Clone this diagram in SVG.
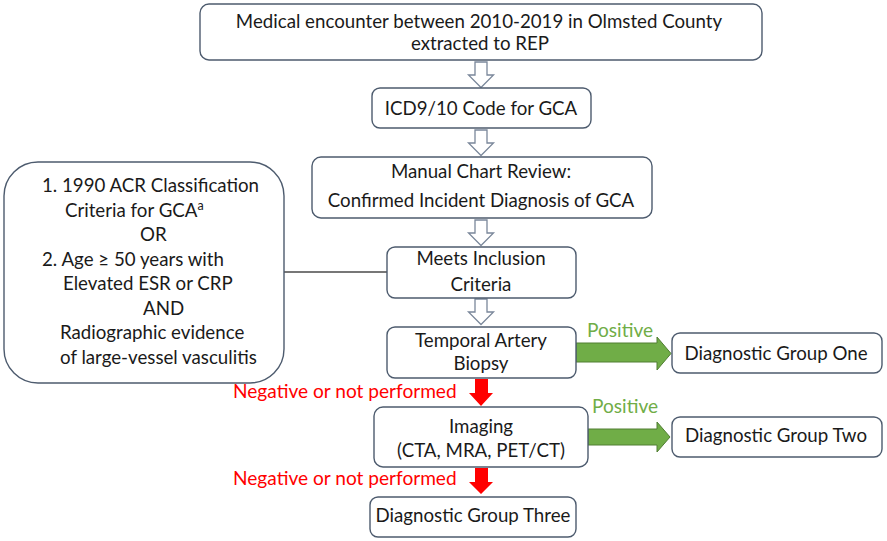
<svg xmlns="http://www.w3.org/2000/svg" width="887" height="541" viewBox="0 0 887 541">
<defs>
<style>
.box{fill:#fff;stroke:#4d5b6e;stroke-width:1.4}
.t{font-family:Lato,"Liberation Sans",sans-serif;font-size:18.7px;fill:#1a1a1a}
.c{text-anchor:middle}
.neg{font-family:Lato,"Liberation Sans",sans-serif;font-size:19.1px;fill:#ff0000}
.pos{font-family:Lato,"Liberation Sans",sans-serif;font-size:19.1px;fill:#70ad47}
.hollow{fill:#fff;stroke:#7a879a;stroke-width:1.3}
.green{fill:#70ad47;stroke:#507e32;stroke-width:1}
.red{fill:#ff0000}
</style>
<polygon id="ha" points="-6,0 6,0 6,13 12.5,13 0,25.5 -12.5,13 -6,13"/>
</defs>
<g id="connectors">
<use href="#ha" class="hollow" x="481" y="62"/>
<use href="#ha" class="hollow" x="481" y="130"/>
<use href="#ha" class="hollow" x="481" y="220"/>
<use href="#ha" class="hollow" x="481" y="299"/>
<line x1="284" y1="272" x2="387" y2="272" stroke="#4a4a4a" stroke-width="1.4"/>
<polygon class="green" points="576,343 657,343 657,337 671,353.5 657,370 657,362 576,362"/>
<polygon class="green" points="588,429 657,429 657,422 670,437 657,452 657,445 588,445"/>
<polygon class="red" points="475,379 488,379 488,393 493,393 481,406 469,393 475,393"/>
<polygon class="red" points="475,468 488,468 488,482 493,482 481,494 469,482 475,482"/>
<text class="pos" x="587" y="337">Positive</text>
<text class="pos" x="592" y="413">Positive</text>
<text class="neg" x="233" y="398">Negative or not performed</text>
<text class="neg" x="233" y="485">Negative or not performed</text>
</g>
<g id="n1">
<rect class="box" x="200" y="4" width="562" height="56" rx="9"/>
<text class="t c" x="479" y="28">Medical encounter between 2010-2019 in Olmsted County</text>
<text class="t c" x="480" y="50">extracted to REP</text>
</g>
<g id="n2">
<rect class="box" x="372" y="88" width="219" height="40" rx="8"/>
<text class="t c" x="481" y="115">ICD9/10 Code for GCA</text>
</g>
<g id="n3">
<rect class="box" x="312" y="157" width="340" height="61" rx="9"/>
<text class="t c" x="481" y="178">Manual Chart Review:</text>
<text class="t c" x="481" y="207">Confirmed Incident Diagnosis of GCA</text>
</g>
<g id="criteria">
<rect class="box" x="4" y="162" width="280" height="221" rx="34"/>
<text class="t" x="42" y="192">1. 1990 ACR Classification</text>
<text class="t" x="65" y="216.5">Criteria for GCA<tspan font-size="12.5" dy="-7">a</tspan></text>
<text class="t" x="140" y="241">OR</text>
<text class="t" x="42" y="265.5">2. Age ≥ 50 years with</text>
<text class="t" x="63" y="290">Elevated ESR or CRP</text>
<text class="t" x="143" y="314.5">AND</text>
<text class="t" x="60" y="339">Radiographic evidence</text>
<text class="t" x="60" y="363.5">of large-vessel vasculitis</text>
</g>
<g id="n4">
<rect class="box" x="387" y="247" width="189" height="51" rx="8"/>
<text class="t c" x="481" y="265">Meets Inclusion</text>
<text class="t c" x="481" y="291">Criteria</text>
</g>
<g id="n5">
<rect class="box" x="387" y="327" width="189" height="51" rx="8"/>
<text class="t c" x="481" y="347">Temporal Artery</text>
<text class="t c" x="481" y="370">Biopsy</text>
</g>
<g id="g1">
<rect class="box" x="672" y="333" width="210" height="40" rx="8"/>
<text class="t c" x="776" y="360">Diagnostic Group One</text>
</g>
<g id="n6">
<rect class="box" x="374" y="407" width="214" height="60" rx="9"/>
<text class="t c" x="481" y="433">Imaging</text>
<text class="t c" x="481" y="457">(CTA, MRA, PET/CT)</text>
</g>
<g id="g2">
<rect class="box" x="672" y="417" width="210" height="40" rx="8"/>
<text class="t c" x="776" y="442">Diagnostic Group Two</text>
</g>
<g id="g3">
<rect class="box" x="370" y="497" width="206" height="40" rx="8"/>
<text class="t c" x="473" y="522">Diagnostic Group Three</text>
</g>
</svg>
